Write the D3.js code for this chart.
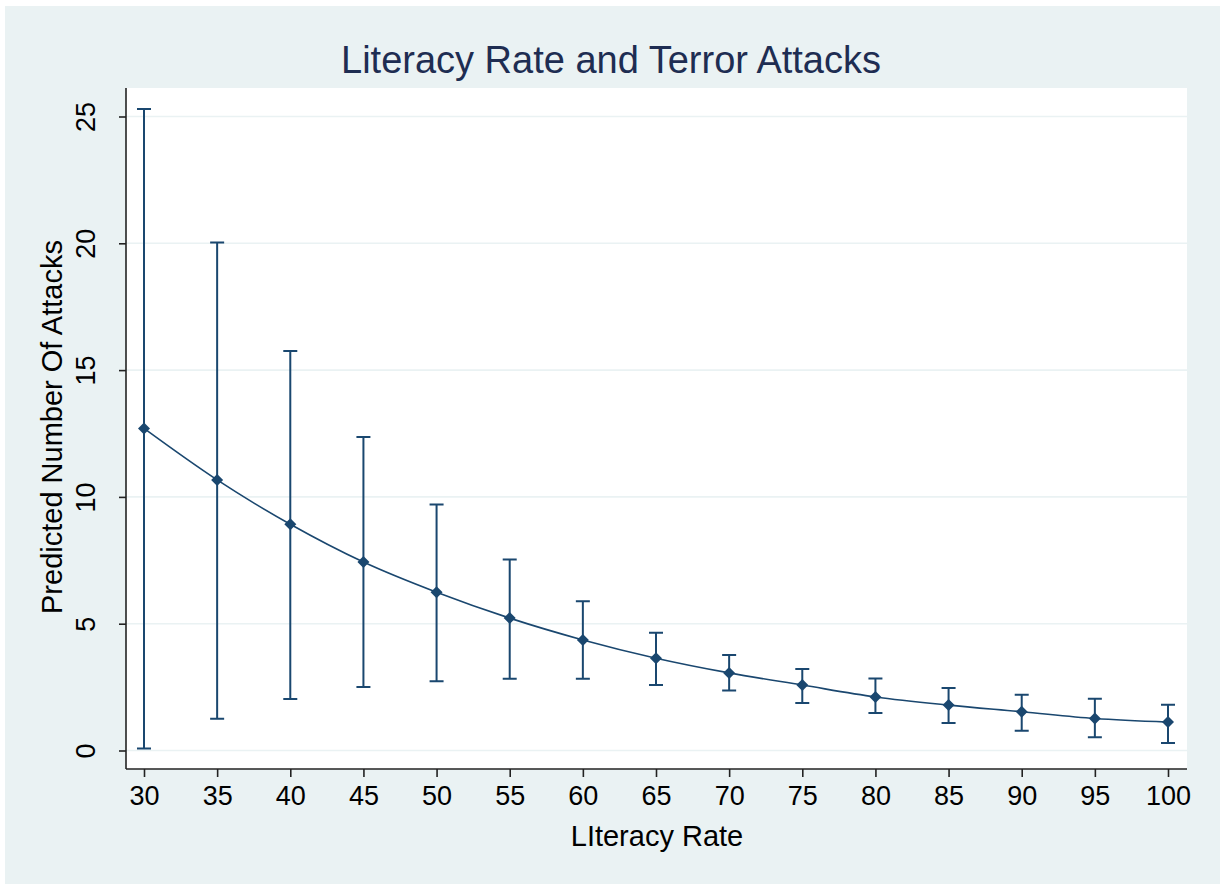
<!DOCTYPE html>
<html>
<head>
<meta charset="utf-8">
<script src="https://cdn.jsdelivr.net/npm/d3@7"></script>
<style>
  body { margin: 0; background: #fff; }
  svg { display: block; font-family: "Liberation Sans", Arial, sans-serif; }
</style>
</head>
<body>
<svg id="chart"></svg>
<script>
// values
var literacy = [30, 35, 40, 45, 50, 55, 60, 65, 70, 75, 80, 85, 90, 95, 100];
var predicted = [12.7, 10.67, 8.92, 7.43, 6.24, 5.22, 4.36, 3.64, 3.06, 2.58, 2.11, 1.79, 1.53, 1.26, 1.12];
var lower = [0.08, 1.25, 2.03, 2.5, 2.73, 2.83, 2.83, 2.58, 2.37, 1.87, 1.48, 1.08, 0.78, 0.52, 0.3];
var upper = [25.3, 20.03, 15.75, 12.36, 9.7, 7.53, 5.89, 4.64, 3.77, 3.21, 2.84, 2.46, 2.2, 2.04, 1.8];
var yTicks = [0, 5, 10, 15, 20, 25];

var width = 1220, height = 884;
var svg = d3.select("#chart").attr("width", width).attr("height", height);

var navy = "#1a476f";

// outer background
svg.append("rect")
	.attr("x", 5).attr("y", 6)
	.attr("width", width - 5).attr("height", height - 6)
	.attr("fill", "#eaf2f3");

var plot = { left: 126, right: 1187, top: 88, bottom: 769 };

svg.append("rect")
	.attr("x", plot.left).attr("y", plot.top)
	.attr("width", plot.right - plot.left).attr("height", plot.bottom - plot.top)
	.attr("fill", "#fff");

var x = d3.scaleLinear().domain([30, 100]).range([144, 1168]);
var y = d3.scaleLinear().domain([0, 25]).range([750.5, 116.5]);

// grid
svg.selectAll("line.grid")
	.data(yTicks)
	.enter()
	.append("line")
	.attr("class", "grid")
	.attr("x1", plot.left).attr("x2", plot.right)
	.attr("y1", d => y(d)).attr("y2", d => y(d))
	.attr("stroke", "#eaf2f3")
	.attr("stroke-width", 1.6);

// y axis
var yAxis = d3.axisLeft(y).tickValues(yTicks).tickSize(7).tickPadding(0).tickFormat(d3.format("d"));
var gy = svg.append("g").attr("transform", "translate(" + plot.left + ",0)").call(yAxis);
gy.select(".domain").attr("d", "M0," + plot.top + "V" + plot.bottom).attr("stroke", "#222").attr("stroke-width", 1.6);
gy.selectAll(".tick line").attr("stroke", "#222").attr("stroke-width", 1.6);
gy.selectAll(".tick text")
	.attr("x", 0).attr("dy", null)
	.attr("transform", "translate(-38,0) rotate(-90)")
	.attr("text-anchor", "middle")
	.attr("dominant-baseline", "middle")
	.attr("font-size", 27)
	.attr("fill", "#000");

// x axis
var xAxis = d3.axisBottom(x).tickValues(literacy).tickSize(8).tickPadding(9).tickFormat(d3.format("d"));
var gx = svg.append("g").attr("transform", "translate(0," + plot.bottom + ")").call(xAxis);
gx.select(".domain").attr("d", "M" + plot.left + ",0H" + plot.right).attr("stroke", "#222").attr("stroke-width", 1.6);
gx.selectAll(".tick line").attr("stroke", "#222").attr("stroke-width", 1.6);
gx.selectAll(".tick text").attr("font-size", 27).attr("fill", "#000");

// error bars
var rows = literacy.map((v, i) => ({ x: v, p: predicted[i], lo: lower[i], hi: upper[i] }));
var cap = 7;

var bars = svg.append("g").attr("stroke", navy).attr("stroke-width", 2).attr("fill", "none");
bars.selectAll("path")
	.data(rows)
	.enter()
	.append("path")
	.attr("d", d => "M" + x(d.x) + "," + y(d.lo) + "V" + y(d.hi) +
		"M" + (x(d.x) - cap) + "," + y(d.hi) + "H" + (x(d.x) + cap) +
		"M" + (x(d.x) - cap) + "," + y(d.lo) + "H" + (x(d.x) + cap));

// fitted line
var line = d3.line().x(d => x(d.x)).y(d => y(d.p)).curve(d3.curveMonotoneX);
svg.append("path")
	.datum(rows)
	.attr("d", line)
	.attr("fill", "none")
	.attr("stroke", navy)
	.attr("stroke-width", 1.6);

// markers
var diamond = d3.symbol().type(d3.symbolSquare).size(72);
svg.selectAll("path.marker")
	.data(rows)
	.enter()
	.append("path")
	.attr("class", "marker")
	.attr("d", diamond)
	.attr("transform", d => "translate(" + x(d.x) + "," + y(d.p) + ") rotate(45)")
	.attr("fill", navy);

// titles
svg.append("text")
	.attr("x", 611).attr("y", 73)
	.attr("text-anchor", "middle")
	.attr("font-size", 38)
	.attr("fill", "#1e2d52")
	.text("Literacy Rate and Terror Attacks");

svg.append("text")
	.attr("x", 657).attr("y", 846)
	.attr("text-anchor", "middle")
	.attr("font-size", 29)
	.attr("fill", "#000")
	.text("LIteracy Rate");

svg.append("text")
	.attr("transform", "translate(62,427) rotate(-90)")
	.attr("text-anchor", "middle")
	.attr("font-size", 29)
	.attr("fill", "#000")
	.text("Predicted Number Of Attacks");
</script>
</body>
</html>
